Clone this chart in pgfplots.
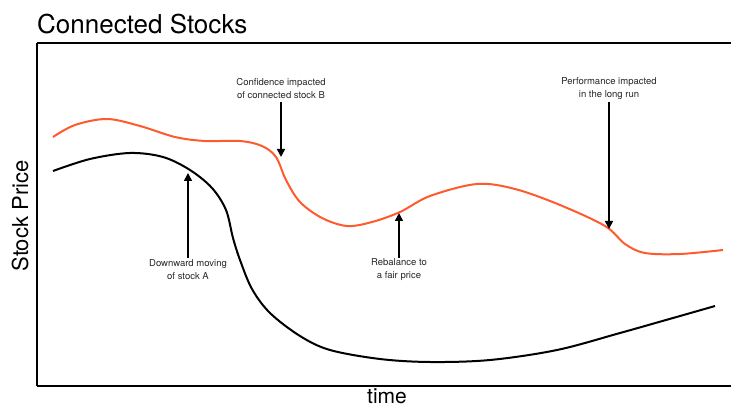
\documentclass[border=0pt]{standalone}
\usepackage{pgfplots}
\pgfplotsset{compat=1.18}
\usepackage{fontspec}
\setmainfont{TeX Gyre Heros}
\usetikzlibrary{arrows.meta}
\definecolor{orangeline}{HTML}{FF5A2D}
\begin{document}
\begin{tikzpicture}[x=1pt,y=1pt]
\useasboundingbox (0,0) rectangle (731,409);
\node[anchor=base west,font=\fontsize{26}{30}\selectfont,inner sep=0pt] at (37,375) {Connected Stocks};
\node[rotate=90,font=\fontsize{22}{26}\selectfont,inner sep=0pt] at (20,193) {Stock Price};
\node[anchor=base,font=\fontsize{21}{24}\selectfont,inner sep=0pt] at (387,5) {time};
\begin{axis}[
  at={(37pt,23pt)}, anchor=south west,
  scale only axis, width=703pt, height=343pt,
  xmin=37, xmax=740, ymin=43, ymax=386, y dir=reverse,
  axis x line=box, axis y line=left,
  axis line style={-, line width=1.1pt},
  xtick=\empty, ytick=\empty,
  clip=false,
]
\addplot[orangeline, line width=2pt, smooth, tension=0.55] coordinates {
(53,137) (75,125) (107,119) (140,126) (175,137) (205,141) (240,141) (262,146)
(276,157) (286,180) (300,202) (322,218) (347,226) (372,222) (400,212) (430,196)
(477,184) (515,189) (560,205) (605,226) (625,244) (645,253) (680,254) (723,250)
};
\addplot[black, line width=2pt, smooth, tension=0.55] coordinates {
(53,171) (90,159) (130,153) (163,157) (190,170) (212,188) (226,210) (233,238)
(240,260) (252,289) (270,313) (300,336) (330,350) (380,359) (430,362) (490,360)
(557,350) (620,333) (673,318) (715,306)
};
\tikzset{ann/.style={font=\fontsize{9.5}{13}\selectfont, align=center, text=black!85, inner sep=0pt},
  arr/.style={line width=1.6pt, -{Triangle[width=8pt,length=8pt]}}}
\node[ann] at (axis cs:281,88.5) {Confidence impacted\\of connected stock B};
\draw[arr] (axis cs:281,102) -- (axis cs:281,157);
\node[ann] at (axis cs:609,88.5) {Performance impacted\\in the long run};
\draw[arr] (axis cs:609,102) -- (axis cs:609,229);
\node[ann] at (axis cs:188,270) {Downward moving\\of stock A};
\draw[arr] (axis cs:188,258) -- (axis cs:188,173);
\node[ann] at (axis cs:399,270) {Rebalance to\\a fair price};
\draw[arr] (axis cs:399,258) -- (axis cs:399,213);
\end{axis}
\end{tikzpicture}
\end{document}
